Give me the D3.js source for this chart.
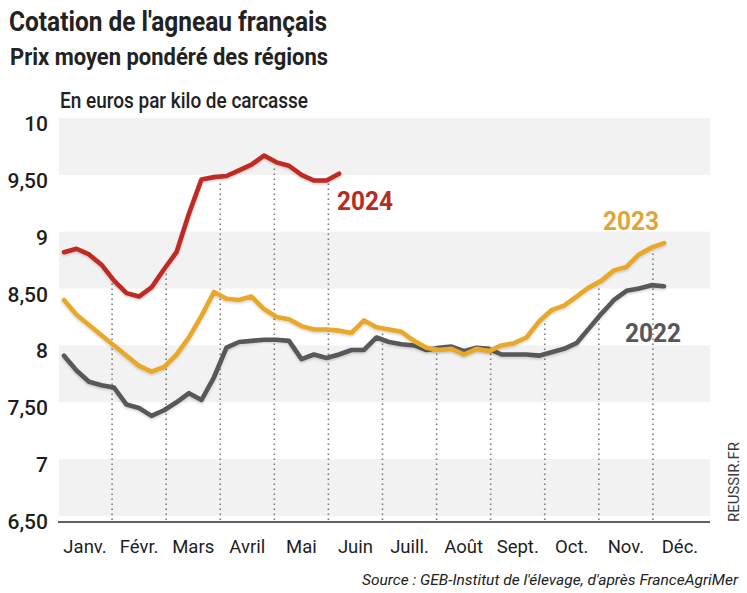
<!DOCTYPE html>
<html>
<head>
<meta charset="utf-8">
<script src="https://cdn.jsdelivr.net/npm/d3@7"></script>
<style>
  html, body { margin: 0; padding: 0; background: #fff; }
  svg { display: block; }
</style>
</head>
<body>
<svg id="chart" width="747" height="593"></svg>
<script>
// ---------- DATA ----------
const months = ["Janv.", "Févr.", "Mars", "Avril", "Mai", "Juin", "Juill.", "Août", "Sept.", "Oct.", "Nov.", "Déc."];
const yTicks = [6.5, 7, 7.5, 8, 8.5, 9, 9.5, 10];
const yTickLabels = ["6,50", "7", "7,50", "8", "8,50", "9", "9,50", "10"];
const bandRanges = [[9.5, 10], [8.5, 9], [7.5, 8], [6.5, 7]];

const values2022 = [7.91, 7.78, 7.68, 7.65, 7.63, 7.48, 7.45, 7.38, 7.43, 7.50, 7.58, 7.52, 7.72, 7.98, 8.03, 8.04, 8.05, 8.05, 8.04, 7.88,
  7.92, 7.89, 7.92, 7.96, 7.96, 8.07, 8.03, 8.01, 8.00, 7.96, 7.98, 7.99, 7.95, 7.98, 7.97, 7.92, 7.92, 7.92, 7.91, 7.94,
  7.97, 8.02, 8.15, 8.28, 8.40, 8.48, 8.50, 8.53, 8.52];
const values2023 = [8.40, 8.27, 8.18, 8.09, 8.00, 7.91, 7.82, 7.77, 7.81, 7.92, 8.07, 8.26, 8.47, 8.41, 8.40, 8.43, 8.32, 8.25, 8.23, 8.17,
  8.14, 8.14, 8.13, 8.11, 8.22, 8.16, 8.14, 8.12, 8.04, 7.98, 7.96, 7.97, 7.92, 7.97, 7.95, 8.00, 8.02, 8.07, 8.21, 8.31,
  8.35, 8.43, 8.51, 8.57, 8.66, 8.69, 8.80, 8.86, 8.90];
const values2024 = [8.82, 8.85, 8.80, 8.71, 8.57, 8.46, 8.43, 8.51, 8.67, 8.82, 9.16, 9.46, 9.48, 9.49, 9.54, 9.59, 9.67, 9.61, 9.58, 9.50,
  9.45, 9.45, 9.51];

const seriesNames = ["2022", "2023", "2024"];
const seriesColors = { "2022": "#59595b", "2023": "#e9a82c", "2024": "#bf2a20" };
const labelColors = { "2022": "#58585a", "2023": "#e0a53a", "2024": "#b82a22" };

const titleText = "Cotation de l'agneau français";
const subtitleText = "Prix moyen pondéré des régions";
const unitText = "En euros par kilo de carcasse";
const sourceText = "Source : GEB-Institut de l'élevage, d'après FranceAgriMer";
const brandText = "REUSSIR.FR";

// ---------- SCALES ----------
const svg = d3.select("#chart");
const y = d3.scaleLinear().domain([6.5, 10]).range([516, 118]);
const xMonth = d3.scaleLinear().domain([0, 12]).range([58, 707]);
const xWeek = d3.scaleLinear().domain([0, 48]).range([64, 664]);
const plotLeft = 59, plotRight = 710, axisY = 522;

const series = {
  "2022": values2022,
  "2023": values2023,
  "2024": values2024
};

// ---------- BACKGROUND BANDS ----------
svg.append("g").selectAll("rect").data(bandRanges).join("rect")
  .attr("x", plotLeft)
  .attr("width", plotRight - plotLeft)
  .attr("y", d => y(d[1]))
  .attr("height", d => y(d[0]) - y(d[1]))
  .attr("fill", "#f2f2f2");

// ---------- DOTTED MONTH SEPARATORS ----------
function valueAt(arr, idx) {
  if (idx < 0 || idx > arr.length - 1) return null;
  const i0 = Math.floor(idx), i1 = Math.min(arr.length - 1, i0 + 1);
  const t = idx - i0;
  return arr[i0] * (1 - t) + arr[i1] * t;
}
const seps = d3.range(1, 12).map(k => {
  const xx = xMonth(k);
  const idx = xWeek.invert(xx);
  let top = -Infinity;
  seriesNames.forEach(n => {
    const v = valueAt(series[n], idx);
    if (v !== null && v > top) top = v;
  });
  return { k, top };
});
svg.append("g").selectAll("line").data(seps).join("line")
  .attr("x1", d => xMonth(d.k))
  .attr("x2", d => xMonth(d.k))
  .attr("y1", axisY - 2)
  .attr("y2", d => y(d.top) + 4)
  .attr("stroke", "#7a7a7a")
  .attr("stroke-width", 1.6)
  .attr("stroke-dasharray", "1.6,3.4");

// ---------- AXIS LINE ----------
svg.append("line")
  .attr("x1", plotLeft - 1).attr("x2", plotRight)
  .attr("y1", axisY).attr("y2", axisY)
  .attr("stroke", "#2b2b2b").attr("stroke-width", 1.5);

// ---------- Y LABELS ----------
svg.append("g").selectAll("text").data(yTicks).join("text")
  .attr("x", 48)
  .attr("y", d => y(d) + 13)
  .attr("text-anchor", "end")
  .attr("font-family", "Roboto, 'Noto Sans', sans-serif")
  .attr("font-size", 21)
  .attr("font-weight", 500)
  .attr("fill", "#1e1e1e")
  .text((d, i) => yTickLabels[i]);

// ---------- MONTH LABELS ----------
svg.append("g").selectAll("text").data(months).join("text")
  .attr("x", (d, i) => xMonth(i + 0.5))
  .attr("y", 553)
  .attr("text-anchor", "middle")
  .attr("font-family", "Roboto, 'Noto Sans', sans-serif")
  .attr("font-size", 18.5)
  .attr("fill", "#1e1e1e")
  .text(d => d);

// ---------- LINES ----------
const line = d3.line()
  .x((d, i) => xWeek(i))
  .y(d => y(d));

const shadow = svg.append("defs").append("filter").attr("id", "sh")
  .attr("x", "-5%").attr("y", "-5%").attr("width", "110%").attr("height", "120%");
shadow.append("feDropShadow").attr("dx", 0).attr("dy", 1.5).attr("stdDeviation", 1.2)
  .attr("flood-color", "#000").attr("flood-opacity", 0.18);

["2022", "2023", "2024"].forEach(n => {
  svg.append("path")
    .datum(series[n])
    .attr("d", line)
    .attr("fill", "none")
    .attr("stroke", seriesColors[n])
    .attr("stroke-width", 4.6)
    .attr("stroke-linejoin", "round")
    .attr("stroke-linecap", "round")
    .attr("filter", "url(#sh)");
});

// ---------- SERIES LABELS ----------
const seriesLabelPos = [
  { n: "2024", i: 22, dx: -2, dy: 36 },
  { n: "2023", i: 48, dx: -61, dy: -13 },
  { n: "2022", i: 48, dx: -39, dy: 56 }
];
svg.append("g").selectAll("text").data(seriesLabelPos).join("text")
  .attr("x", d => xWeek(d.i) + d.dx)
  .attr("y", d => y(series[d.n][d.i]) + d.dy)
  .attr("font-family", "Roboto, 'Noto Sans', sans-serif")
  .attr("font-weight", 700)
  .attr("font-size", 26)
  .attr("textLength", 56)
  .attr("lengthAdjust", "spacingAndGlyphs")
  .attr("fill", d => labelColors[d.n])
  .text(d => d.n);

// ---------- TITLES ----------
svg.append("text")
  .attr("x", 9).attr("y", 31)
  .attr("font-family", "Roboto, 'Noto Sans', sans-serif")
  .attr("font-weight", 700).attr("font-size", 27)
  .attr("textLength", 318).attr("lengthAdjust", "spacingAndGlyphs")
  .attr("fill", "#222")
  .text(titleText);

svg.append("text")
  .attr("x", 10).attr("y", 65)
  .attr("font-family", "Roboto, 'Noto Sans', sans-serif")
  .attr("font-weight", 700).attr("font-size", 23.5)
  .attr("textLength", 318).attr("lengthAdjust", "spacingAndGlyphs")
  .attr("fill", "#222")
  .text(subtitleText);

svg.append("text")
  .attr("x", 60).attr("y", 108)
  .attr("font-family", "Roboto, 'Noto Sans', sans-serif")
  .attr("font-weight", 500).attr("font-size", 22)
  .attr("textLength", 248).attr("lengthAdjust", "spacingAndGlyphs")
  .attr("fill", "#222")
  .text(unitText);

// ---------- SOURCE ----------
svg.append("text")
  .attr("x", 738).attr("y", 585)
  .attr("text-anchor", "end")
  .attr("font-family", "Roboto, 'Noto Sans', sans-serif")
  .attr("font-style", "italic").attr("font-size", 14)
  .attr("textLength", 376).attr("lengthAdjust", "spacingAndGlyphs")
  .attr("fill", "#222")
  .text(sourceText);

// ---------- BRAND ----------
svg.append("text")
  .attr("transform", "translate(739,522) rotate(-90)")
  .attr("x", 0).attr("y", 0)
  .attr("font-family", "Roboto, 'Noto Sans', sans-serif")
  .attr("font-size", 15)
  .attr("textLength", 80).attr("lengthAdjust", "spacingAndGlyphs")
  .attr("fill", "#3a3a3a")
  .text(brandText);
</script>
</body>
</html>
